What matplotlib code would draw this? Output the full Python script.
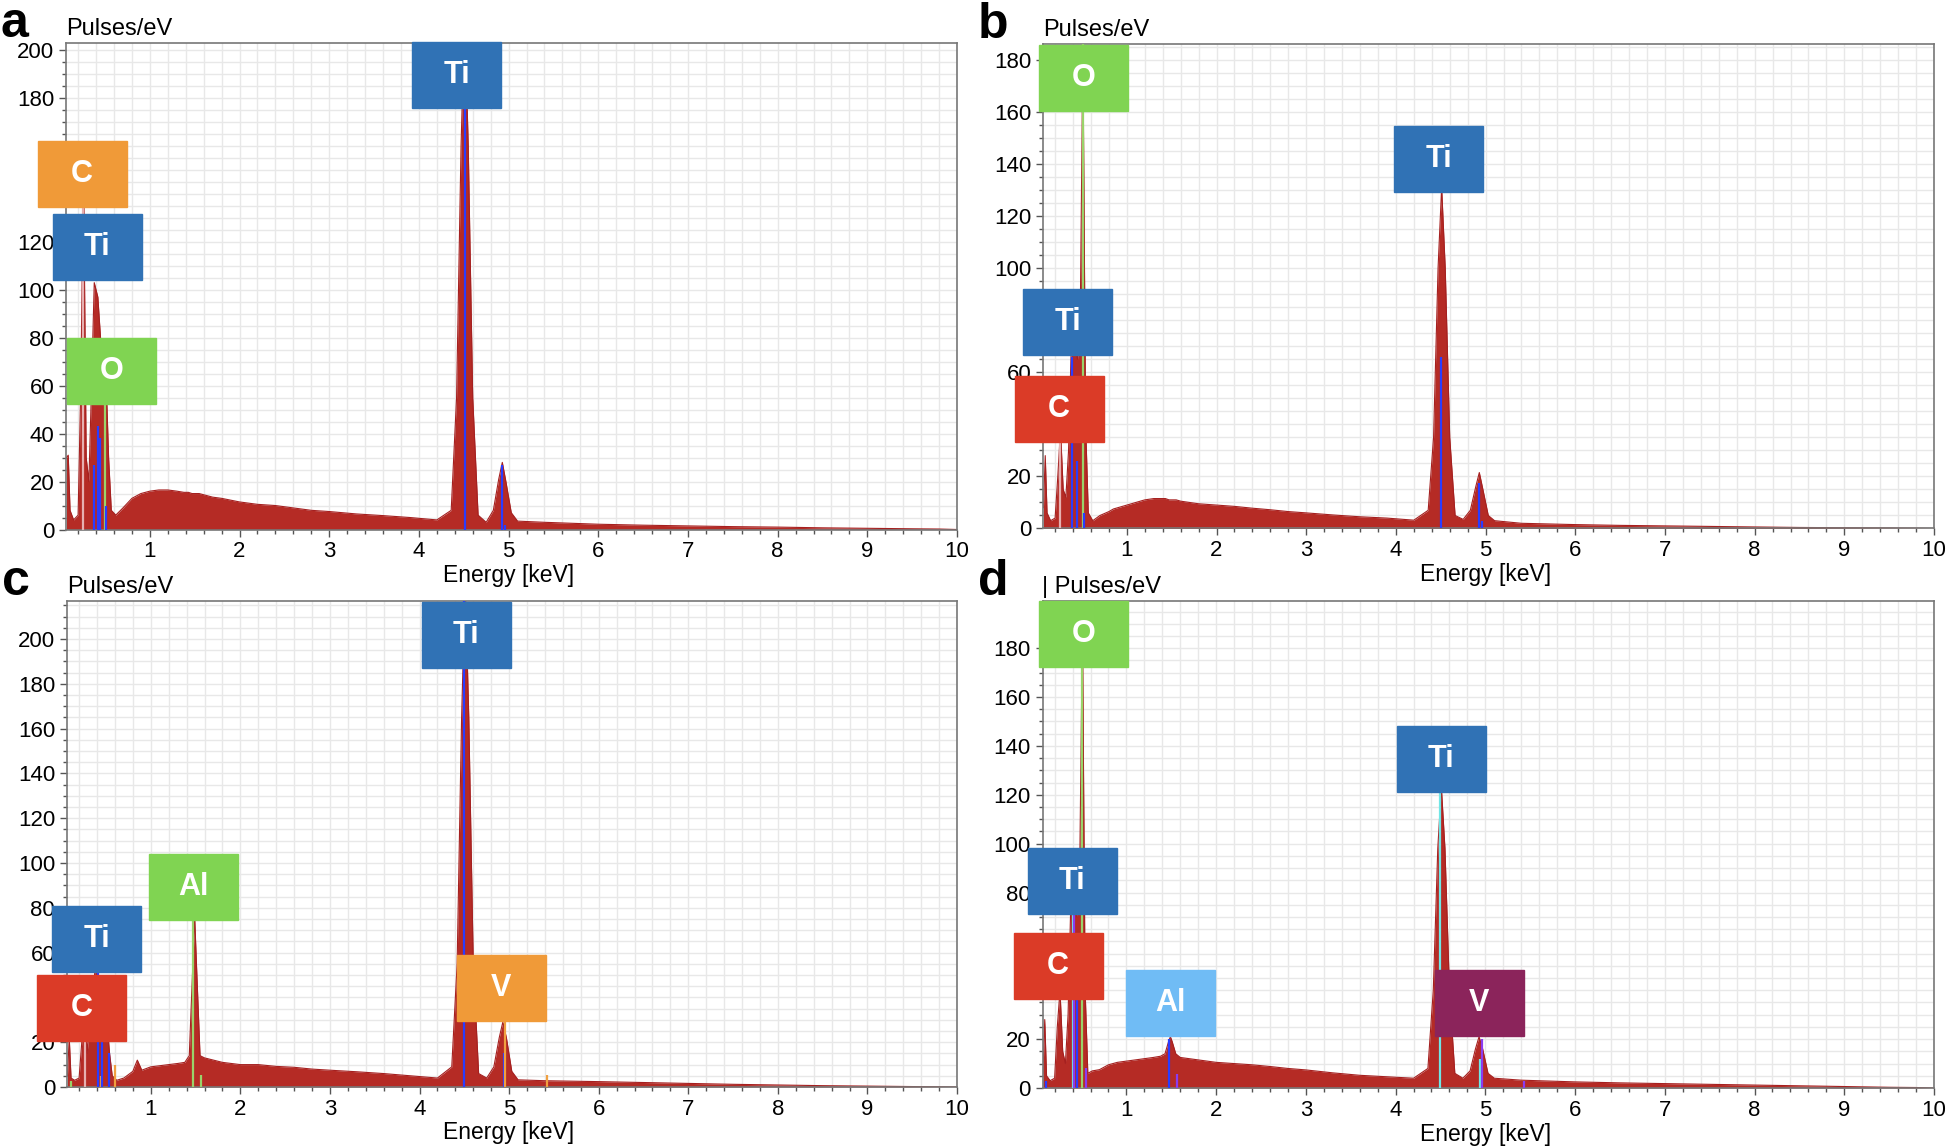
import matplotlib
matplotlib.use('Agg')
import matplotlib.pyplot as plt
from matplotlib.patches import Rectangle
from matplotlib.ticker import MultipleLocator

plt.rcParams['font.family'] = ['Liberation Sans', 'DejaVu Sans']

# ---------------- data ----------------
# energy channels (keV), shared by all four panels
energy_kev = [0.07, 0.09, 0.11, 0.15, 0.20, 0.23, 0.26, 0.29, 0.32, 0.35, 0.38, 0.42, 0.45, 0.48, 0.51, 0.54, 0.57, 0.62,
              0.70, 0.80, 0.85, 0.90, 1.00, 1.10, 1.20, 1.30, 1.38, 1.43, 1.47, 1.49, 1.51, 1.55, 1.60, 1.70, 1.80,
              2.00, 2.20, 2.40, 2.60, 2.80, 3.00, 3.30, 3.60, 3.90, 4.20,
              4.36, 4.42, 4.47, 4.51, 4.55, 4.60, 4.66,
              4.75, 4.83, 4.89, 4.93, 4.97, 5.03, 5.10,
              5.40, 6.00, 6.50, 7.00, 7.50, 8.00, 8.50, 9.00, 9.50, 9.80, 10.0]

a_counts = [30, 31, 8, 4, 6, 60, 150, 30, 20, 60, 103, 97, 80, 60, 65, 30, 8, 6,
            9, 13, 14, 15, 16, 16.5, 16.5, 16, 15.5, 15.5, 15, 15, 15, 15, 14.5, 13.5, 13,
            11.5, 10.5, 10, 9, 8, 7.5, 6.5, 5.8, 5, 4,
            8, 55, 160, 215, 160, 55, 6,
            3, 8, 21, 28, 20, 7, 3.5,
            3, 2.2, 1.8, 1.5, 1.2, 1.0, 0.7, 0.5, 0.3, 0.2, 0]

b_counts = [8, 28, 6, 3, 4, 20, 38, 15, 12, 30, 70, 72, 65, 80, 185, 40, 6, 3,
            5, 6.5, 7.5, 8, 9, 10, 11, 11.5, 11.5, 11.5, 11, 11, 11, 11, 10.5, 10, 9.5,
            9, 8.5, 7.8, 7.2, 6.5, 6, 5.2, 4.5, 4, 3.2,
            7, 35, 100, 131, 100, 35, 5,
            3.5, 7, 16, 21.5, 15, 5, 3,
            2, 1.5, 1.2, 1, 0.8, 0.6, 0.4, 0.3, 0.2, 0.1, 0]

c_counts = [5, 22, 4, 3, 4, 20, 40, 15, 30, 35, 55, 45, 40, 38, 30, 15, 5, 3,
            4, 7, 12, 7.5, 9, 9.5, 10, 10.5, 11, 14, 55, 76, 55, 14, 13, 12, 11,
            10, 10, 9.2, 8.8, 8, 7.5, 6.8, 6, 5, 4,
            9, 55, 165, 225, 165, 55, 6,
            4, 9, 22, 29, 22, 7, 3.2,
            2.8, 2.4, 2, 1.6, 1.2, 0.9, 0.6, 0.4, 0.2, 0.1, 0]

d_counts = [6, 28, 5, 3, 4, 25, 40, 15, 10, 30, 75, 78, 70, 90, 190, 40, 6, 7,
            7.5, 9.5, 10, 10.5, 11, 11.5, 12, 12.5, 13, 14, 19, 21, 19, 14, 12.5, 12, 11.5,
            10.5, 10, 9.5, 8.8, 8, 7.4, 6.2, 5.2, 4.6, 4,
            8, 40, 98, 123, 98, 40, 6,
            4, 7, 16, 21, 16, 6, 4,
            3.2, 2.5, 2.1, 1.8, 1.5, 1.2, 0.9, 0.6, 0.3, 0.2, 0]

# y-axis upper limits (Pulses/eV)
y_max = {'a': 203, 'b': 186.3, 'c': 217, 'd': 199.3}

# y tick labels that are covered by the tags in the original figure
hidden_yticks = {'a': [140, 160], 'b': [40, 80], 'c': [40], 'd': [40, 60]}

# element marker lines: energy, top value
a_line_kev = [0.26, 0.38, 0.42, 0.44, 0.505, 0.51, 4.51, 4.93, 4.96]
a_line_top = [140, 27, 43, 38, 65, 10, 203, 27, 2]
b_line_kev = [0.255, 0.385, 0.44, 0.51, 0.52, 4.50, 4.93, 4.96]
b_line_top = [38, 66, 26, 186, 6, 66, 17.5, 3]
c_line_kev = [0.11, 0.27, 0.41, 0.45, 0.455, 0.53, 0.60, 1.47, 1.56, 4.50, 4.94, 4.95, 5.42]
c_line_top = [2.5, 45, 55, 5, 45, 15, 10, 76, 5.4, 217, 15, 29, 5.4]
d_line_kev = [0.10, 0.40, 0.42, 0.45, 0.51, 0.55, 1.48, 1.56, 4.50, 4.94, 4.96, 5.43]
d_line_top = [3, 71, 71, 60, 190, 8, 20, 5.6, 121, 12, 20, 3]

# element tags: text, energy of tag centre, count of tag centre
a_tags = [('Ti', 4.42, 189.6), ('C', 0.244, 148.3), ('Ti', 0.411, 118), ('O', 0.573, 66.3)]
b_tags = [('O', 0.517, 173), ('Ti', 4.479, 142), ('Ti', 0.338, 79.4), ('C', 0.244, 45.8)]
c_tags = [('Ti', 4.52, 202), ('Al', 1.477, 89.3), ('Ti', 0.394, 66.3), ('C', 0.227, 35.3), ('V', 4.91, 44.2)]
d_tags = [('O', 0.523, 185.9), ('Ti', 4.507, 134.8), ('Ti', 0.394, 84.8), ('C', 0.238, 50),
          ('Al', 1.494, 34.8), ('V', 4.93, 34.8)]

# ---------------- styles ----------------
TI_BLUE = '#3072b5'
C_ORANGE = '#f09a38'
C_RED = '#db3b27'
O_GREEN = '#80d452'
AL_BLUE = '#70bcf5'
V_PURPLE = '#8b245b'
SPEC_RED = '#b52b25'
BLUE = '#2a3cff'
GREEN = '#9ad36a'
PINK = '#e6b0b0'
ORANGE = '#f0a040'
CYAN = '#70e6e6'
PURPLE = '#8a3cf0'

a_line_col = [PINK, BLUE, BLUE, BLUE, GREEN, BLUE, BLUE, BLUE, BLUE]
b_line_col = [PINK, BLUE, BLUE, GREEN, BLUE, BLUE, BLUE, BLUE]
c_line_col = [GREEN, PINK, BLUE, ORANGE, BLUE, BLUE, ORANGE, GREEN, GREEN, BLUE, BLUE, ORANGE, ORANGE]
d_line_col = [BLUE, CYAN, PURPLE, BLUE, GREEN, PURPLE, BLUE, PURPLE, CYAN, CYAN, PURPLE, PURPLE]

a_tag_col = [TI_BLUE, C_ORANGE, TI_BLUE, O_GREEN]
b_tag_col = [O_GREEN, TI_BLUE, TI_BLUE, C_RED]
c_tag_col = [TI_BLUE, O_GREEN, TI_BLUE, C_RED, C_ORANGE]
d_tag_col = [O_GREEN, TI_BLUE, TI_BLUE, C_RED, AL_BLUE, V_PURPLE]

FIG_W, FIG_H = 1946, 1147
TAG_W, TAG_H = 89, 66  # pixels

fig = plt.figure(figsize=(FIG_W / 100, FIG_H / 100), dpi=100)


def px_axes(left, top, right, bottom):
    return [left / FIG_W, 1 - bottom / FIG_H, (right - left) / FIG_W, (bottom - top) / FIG_H]


def draw_panel(rect, counts, ymax, hidden, line_kev, line_top, line_col, tags, tag_col, letter, ylabel):
    ax = fig.add_axes(rect)
    ax.set_xlim(0.065, 10)
    ax.set_ylim(0, ymax)

    ax.set_axisbelow(True)
    ax.xaxis.set_minor_locator(MultipleLocator(0.2))
    ax.yaxis.set_minor_locator(MultipleLocator(5))
    ax.grid(which='both', color='#e8e8e8', lw=1.0)

    ax.fill_between(energy_kev, counts, 0, color=SPEC_RED, lw=0, zorder=2)
    ax.plot(energy_kev, counts, color='#a52020', lw=0.8, zorder=2)
    ax.vlines(line_kev, 0, line_top, colors=line_col, lw=1.6, zorder=3)

    ax.set_xticks(range(1, 11))
    yt = list(range(0, int(ymax) + 1, 20))
    ax.set_yticks(yt)
    ax.set_yticklabels(['' if v in hidden else str(v) for v in yt])
    ax.tick_params(which='major', direction='out', length=5, width=1, color='#555555',
                   labelsize=16, pad=3.5)
    ax.tick_params(which='minor', direction='out', length=3, width=1, color='#555555')
    for sp in ax.spines.values():
        sp.set_color('#777777')
        sp.set_linewidth(1.2)

    ax.annotate('Energy [keV]', xy=(0.5, 0), xycoords='axes fraction', xytext=(-3, -46),
                textcoords='offset pixels', ha='center', va='center', fontsize=16.5)
    ax.annotate(ylabel, xy=(0, 1), xycoords='axes fraction', xytext=(0, 8),
                textcoords='offset pixels', ha='left', va='baseline', fontsize=17)
    ax.annotate(letter, xy=(0, 1), xycoords='axes fraction', xytext=(-65, 6),
                textcoords='offset pixels', ha='left', va='baseline', fontsize=36,
                fontweight='bold')

    # coloured element tags
    ax_w = rect[2] * FIG_W
    ax_h = rect[3] * FIG_H
    w = TAG_W / ax_w
    h = TAG_H / ax_h
    for (name, ex, cy), col in zip(tags, tag_col):
        fx, fy = ax.transLimits.transform((ex, cy))
        ax.add_patch(Rectangle((fx - w / 2, fy - h / 2), w, h, transform=ax.transAxes,
                               facecolor=col, edgecolor=col, lw=1, clip_on=False, zorder=5))
        ax.text(fx, fy, name, transform=ax.transAxes, ha='center', va='center',
                color='white', fontsize=22, fontweight='bold', zorder=6, clip_on=False)
    return ax


draw_panel(px_axes(66, 43, 957, 529.5), a_counts, y_max['a'], hidden_yticks['a'],
           a_line_kev, a_line_top, a_line_col, a_tags, a_tag_col, 'a', 'Pulses/eV')
draw_panel(px_axes(1043, 43.6, 1934, 528.5), b_counts, y_max['b'], hidden_yticks['b'],
           b_line_kev, b_line_top, b_line_col, b_tags, b_tag_col, 'b', 'Pulses/eV')
draw_panel(px_axes(67, 601, 957, 1087), c_counts, y_max['c'], hidden_yticks['c'],
           c_line_kev, c_line_top, c_line_col, c_tags, c_tag_col, 'c', 'Pulses/eV')
draw_panel(px_axes(1042.5, 601, 1934, 1088), d_counts, y_max['d'], hidden_yticks['d'],
           d_line_kev, d_line_top, d_line_col, d_tags, d_tag_col, 'd', '| Pulses/eV')

fig.savefig('out.png', dpi=100)
